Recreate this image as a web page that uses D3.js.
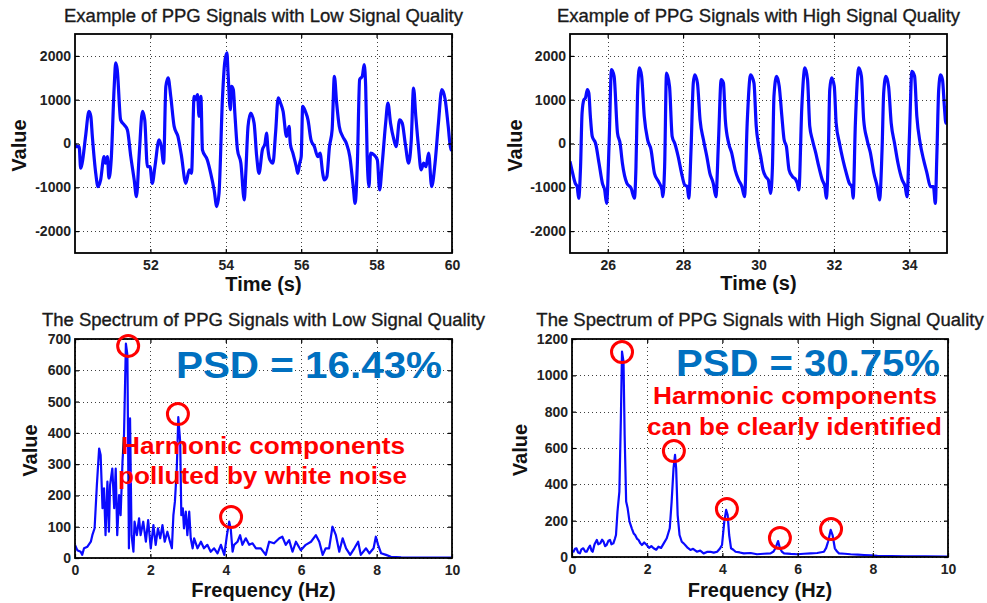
<!DOCTYPE html>
<html><head><meta charset="utf-8">
<script src="https://cdn.jsdelivr.net/npm/d3@7"></script>
<style>body{margin:0;background:#fff}svg{display:block}text{font-family:"Liberation Sans",Arial,sans-serif}</style>
</head><body><svg id="c" width="987" height="603"></svg>
<script>
// ---------- data ----------
const lowTitle = "Example of PPG Signals with Low Signal Quality";
const highTitle = "Example of PPG Signals with High Signal Quality";
const lowSpecTitle = "The Spectrum of PPG Signals with Low Signal Quality";
const highSpecTitle = "The Spectrum of PPG Signals with High Signal Quality";

const lowTimeTicks = [52, 54, 56, 58, 60];
const highTimeTicks = [26, 28, 30, 32, 34];
const signalTicks = [-2000, -1000, 0, 1000, 2000];
const freqTicks = [0, 2, 4, 6, 8, 10];
const lowSpecTicks = [0, 100, 200, 300, 400, 500, 600, 700];
const highSpecTicks = [0, 200, 400, 600, 800, 1000, 1200];

// [time (s), value]
const lowSignal = [[50.0,0],[50.02,-70],[50.11,-70],[50.15,-565],[50.19,-450],[50.28,160],[50.37,733],[50.42,620],[50.46,160],[50.55,-680],[50.61,-985],[50.68,-830],[50.77,-300],[50.81,-450],[50.86,-300],[50.90,-790],[50.96,-375],[51.04,1305],[51.08,1840],[51.12,1690],[51.21,540],[51.30,430],[51.39,310],[51.48,-300],[51.57,-830],[51.63,-1215],[51.70,-300],[51.79,733],[51.85,540],[51.92,-530],[51.99,-530],[52.05,-910],[52.12,-530],[52.23,84],[52.29,-70],[52.35,-450],[52.41,1305],[52.47,1500],[52.54,1076],[52.63,390],[52.73,160],[52.82,-260],[52.94,-910],[53.03,-600],[53.09,-680],[53.16,1076],[53.20,1000],[53.25,1115],[53.29,620],[53.34,1076],[53.38,-145],[53.51,-375],[53.60,-680],[53.69,-1060],[53.76,-1440],[53.82,-1140],[53.91,1000],[53.97,1840],[54.03,2070],[54.06,1610],[54.12,770],[54.15,1305],[54.20,1230],[54.24,695],[54.31,-145],[54.40,-450],[54.49,-1290],[54.53,-680],[54.59,390],[54.66,695],[54.75,465],[54.82,-300],[54.88,-680],[54.97,-145],[55.04,0],[55.08,240],[55.12,-145],[55.17,-375],[55.25,-450],[55.32,240],[55.39,1040],[55.45,925],[55.52,733],[55.61,160],[55.68,390],[55.71,0],[55.78,-220],[55.87,-530],[55.91,-680],[55.96,-450],[56.00,-300],[56.04,850],[56.11,733],[56.18,540],[56.26,84],[56.35,-70],[56.44,-300],[56.50,-220],[56.57,-680],[56.61,-830],[56.68,-755],[56.75,-70],[56.82,310],[56.88,1535],[56.94,925],[57.01,390],[57.10,160],[57.20,0],[57.29,-300],[57.38,-985],[57.43,-1365],[57.49,-450],[57.55,1460],[57.62,1535],[57.67,1800],[57.71,1305],[57.75,-300],[57.80,-985],[57.84,-220],[57.93,-260],[58.02,-375],[58.08,-1060],[58.15,-450],[58.24,465],[58.30,925],[58.37,465],[58.46,84],[58.52,-70],[58.61,540],[58.68,465],[58.76,0],[58.85,-450],[58.92,84],[58.98,1267],[59.04,620],[59.11,-70],[59.18,-600],[59.25,-450],[59.31,-530],[59.38,-220],[59.46,-985],[59.55,-450],[59.64,465],[59.73,1230],[59.82,1000],[59.90,390],[59.97,-145],[60.0,-150]];

const highSignal = [[25.0,-410],[25.05,-600],[25.14,-910],[25.19,-985],[25.23,-1250],[25.28,-530],[25.32,695],[25.37,1000],[25.41,1040],[25.46,1230],[25.50,1150],[25.54,620],[25.59,160],[25.68,0],[25.77,-450],[25.86,-910],[25.92,-1060],[25.97,-1366],[26.04,84],[26.10,1690],[26.17,1535],[26.26,240],[26.33,0],[26.39,-450],[26.51,-910],[26.62,-1020],[26.71,-1250],[26.75,-530],[26.79,1076],[26.84,1725],[26.90,1535],[26.97,620],[27.06,84],[27.15,-145],[27.24,-680],[27.35,-870],[27.44,-1060],[27.46,-1215],[27.51,-530],[27.56,1610],[27.64,1305],[27.71,160],[27.78,0],[27.87,-300],[27.96,-680],[28.04,-945],[28.11,-985],[28.15,-1250],[28.21,-145],[28.27,1380],[28.31,1570],[28.38,1380],[28.45,540],[28.54,84],[28.63,-300],[28.71,-680],[28.80,-910],[28.87,-1215],[28.94,84],[29.01,1460],[29.07,1380],[29.12,540],[29.21,0],[29.29,-220],[29.38,-600],[29.47,-830],[29.56,-985],[29.63,-1215],[29.70,465],[29.79,1570],[29.88,1380],[29.94,390],[30.00,-30],[30.06,-300],[30.12,-600],[30.19,-755],[30.26,-830],[30.32,-1140],[30.37,-530],[30.41,1076],[30.48,1535],[30.55,1305],[30.62,620],[30.68,84],[30.74,-70],[30.81,-600],[30.90,-755],[30.99,-830],[31.03,-910],[31.07,-1060],[31.15,850],[31.23,1725],[31.30,1460],[31.36,390],[31.43,84],[31.52,-220],[31.60,-530],[31.69,-830],[31.76,-985],[31.80,-1250],[31.85,-300],[31.89,1230],[31.94,1500],[32.01,1305],[32.06,465],[32.15,0],[32.24,-375],[32.33,-680],[32.41,-910],[32.48,-985],[32.51,-1250],[32.57,465],[32.66,1725],[32.73,1535],[32.79,540],[32.88,84],[32.97,-220],[33.06,-680],[33.15,-985],[33.21,-1290],[33.28,-70],[33.32,1150],[33.38,1535],[33.45,1305],[33.52,465],[33.61,0],[33.70,-450],[33.81,-830],[33.89,-985],[33.94,-1215],[34.00,84],[34.07,1650],[34.14,1535],[34.20,620],[34.29,0],[34.38,-375],[34.47,-680],[34.56,-985],[34.64,-985],[34.69,-1366],[34.73,-300],[34.78,1230],[34.83,1570],[34.88,1460],[34.93,850],[34.97,465],[35.0,500]];

// [frequency (Hz), value]
const lowSpectrum = [[0,42],[0.06,25],[0.15,20],[0.19,10],[0.24,31],[0.33,36],[0.42,52],[0.46,73],[0.52,95],[0.58,233],[0.64,350],[0.68,329],[0.73,159],[0.77,223],[0.81,73],[0.86,244],[0.90,84],[0.93,233],[0.99,286],[1.04,159],[1.08,286],[1.12,73],[1.17,201],[1.21,137],[1.26,308],[1.30,393],[1.35,685],[1.39,649],[1.43,31],[1.46,446],[1.50,73],[1.55,20],[1.58,116],[1.64,73],[1.70,127],[1.74,73],[1.81,116],[1.88,52],[1.94,121],[2.01,31],[2.08,105],[2.14,42],[2.20,95],[2.26,63],[2.32,105],[2.38,52],[2.45,84],[2.52,52],[2.57,31],[2.61,137],[2.65,180],[2.70,286],[2.74,450],[2.79,372],[2.82,137],[2.86,159],[2.89,95],[2.94,148],[2.98,73],[3.03,148],[3.07,63],[3.12,31],[3.16,63],[3.25,31],[3.34,52],[3.42,31],[3.51,42],[3.60,20],[3.69,31],[3.78,15],[3.87,42],[3.96,10],[4.03,73],[4.09,116],[4.13,95],[4.18,20],[4.22,42],[4.31,52],[4.38,73],[4.44,42],[4.53,63],[4.62,42],[4.71,47],[4.80,31],[4.93,31],[5.06,10],[5.15,52],[5.28,47],[5.42,63],[5.50,68],[5.59,42],[5.68,57],[5.77,20],[5.86,52],[5.99,25],[6.12,42],[6.26,52],[6.39,73],[6.48,52],[6.57,10],[6.65,31],[6.74,31],[6.83,100],[6.92,73],[7.01,20],[7.10,63],[7.19,31],[7.30,10],[7.41,31],[7.51,52],[7.58,10],[7.72,31],[7.81,15],[7.92,31],[7.98,68],[8.04,42],[8.12,15],[8.25,10],[8.38,4],[8.65,2],[10,1]];

const highSpectrum = [[0,30],[0.04,29],[0.08,45],[0.12,48],[0.16,25],[0.21,20],[0.25,42],[0.30,48],[0.35,30],[0.39,29],[0.44,50],[0.48,62],[0.52,35],[0.55,29],[0.60,70],[0.66,94],[0.70,70],[0.75,75],[0.80,95],[0.84,84],[0.88,60],[0.92,66],[0.97,90],[1.01,94],[1.05,70],[1.10,75],[1.14,100],[1.17,121],[1.21,250],[1.26,360],[1.30,763],[1.33,1130],[1.37,1075],[1.40,672],[1.44,305],[1.48,268],[1.53,195],[1.59,158],[1.64,130],[1.68,121],[1.73,100],[1.77,94],[1.82,75],[1.86,66],[1.92,80],[1.99,66],[2.05,50],[2.11,60],[2.17,48],[2.24,40],[2.30,57],[2.37,50],[2.44,75],[2.52,103],[2.60,158],[2.65,305],[2.70,488],[2.74,562],[2.77,488],[2.81,231],[2.86,121],[2.92,84],[2.97,75],[3.01,66],[3.08,50],[3.15,39],[3.22,45],[3.32,29],[3.41,35],[3.50,20],[3.59,28],[3.68,29],[3.77,24],[3.86,29],[3.93,45],[3.99,66],[4.05,195],[4.10,259],[4.14,231],[4.18,121],[4.23,48],[4.29,40],[4.35,29],[4.46,25],[4.57,20],[4.75,22],[4.92,15],[5.10,18],[5.28,20],[5.36,30],[5.41,48],[5.48,88],[5.53,48],[5.58,30],[5.64,20],[5.82,17],[5.99,15],[6.17,18],[6.35,20],[6.52,22],[6.70,29],[6.76,50],[6.81,84],[6.88,149],[6.93,121],[6.99,48],[7.05,30],[7.10,20],[7.25,18],[7.41,15],[7.60,13],[7.77,11],[7.95,9],[8.12,6],[8.50,5],[8.84,4],[9.40,3],[10,2]];

// circled harmonic peaks [frequency, value]
const lowHarmonics = [[1.41, 678], [2.73, 460], [4.14, 131]];
const highHarmonics = [[1.33, 1128], [2.71, 583], [4.12, 264], [5.53, 105], [6.89, 154]];

const lowPSD = "PSD = 16.43%";
const highPSD = "PSD = 30.75%";
const lowNote = ["Harmonic components", "polluted by white noise"];
const highNote = ["Harmonic components", "can be clearly identified"];

// ---------- drawing ----------
const svg = d3.select("#c");
const BLUE = "#0a0aff";
let clipId = 0;

function panel(cfg) {
  const b = cfg.box;
  const x = d3.scaleLinear().domain(cfg.xDomain).range([b.x0, b.x1]);
  const y = d3.scaleLinear().domain(cfg.yDomain).range([b.y1, b.y0]);
  const g = svg.append("g");

  // grid
  const grid = g.append("g").attr("stroke", "#000").attr("stroke-width", 1)
    .attr("stroke-dasharray", "1,3").attr("opacity", 0.75);
  grid.selectAll("line.v").data(cfg.xTicks).join("line")
    .attr("x1", d => Math.round(x(d)) + 0.5).attr("x2", d => Math.round(x(d)) + 0.5)
    .attr("y1", b.y0).attr("y2", b.y1);
  grid.selectAll("line.h").data(cfg.yTicks).join("line")
    .attr("y1", d => Math.round(y(d)) + 0.5).attr("y2", d => Math.round(y(d)) + 0.5)
    .attr("x1", b.x0).attr("x2", b.x1);

  // series
  const id = "clip" + (clipId++);
  svg.append("clipPath").attr("id", id).append("rect")
    .attr("x", b.x0).attr("y", b.y0).attr("width", b.x1 - b.x0).attr("height", b.y1 - b.y0);
  g.append("path").datum(cfg.data)
    .attr("clip-path", `url(#${id})`)
    .attr("fill", "none").attr("stroke", BLUE).attr("stroke-width", cfg.lineWidth)
    .attr("stroke-linejoin", "round")
    .attr("d", d3.line().curve(cfg.curve || d3.curveLinear).x(d => x(d[0])).y(d => y(d[1])));

  // axes (ticks inside, MATLAB style)
  const fmt = d => String(d);
  const styleAxis = sel => {
    sel.select(".domain").remove();
    sel.selectAll(".tick line").attr("stroke", "#000").attr("stroke-width", 1.2);
    sel.selectAll("text").attr("font-size", 14).attr("font-weight", "bold")
      .attr("fill", "#222").attr("font-family", '"Liberation Sans", Arial, sans-serif');
  };
  g.append("g").attr("transform", `translate(0,${b.y1})`)
    .call(d3.axisBottom(x).tickValues(cfg.xTicks).tickFormat(fmt).tickSizeInner(-4).tickSizeOuter(0).tickPadding(7.5))
    .call(styleAxis);
  g.append("g").attr("transform", `translate(0,${b.y0})`)
    .call(d3.axisTop(x).tickValues(cfg.xTicks).tickFormat("").tickSizeInner(-4).tickSizeOuter(0))
    .call(styleAxis);
  g.append("g").attr("transform", `translate(${b.x0},0)`)
    .call(d3.axisLeft(y).tickValues(cfg.yTicks).tickFormat(fmt).tickSizeInner(-4).tickSizeOuter(0).tickPadding(4))
    .call(styleAxis);
  g.append("g").attr("transform", `translate(${b.x1},0)`)
    .call(d3.axisRight(y).tickValues(cfg.yTicks).tickFormat("").tickSizeInner(-4).tickSizeOuter(0))
    .call(styleAxis);

  // frame
  g.append("rect").attr("x", b.x0).attr("y", b.y0).attr("width", b.x1 - b.x0).attr("height", b.y1 - b.y0)
    .attr("fill", "none").attr("stroke", "#000").attr("stroke-width", 1.8);

  // title
  const cx = (b.x0 + b.x1) / 2;
  g.append("text").attr("x", cx).attr("y", cfg.titleY).attr("text-anchor", "middle")
    .attr("font-size", 18.5).attr("fill", "#1a1a1a").attr("stroke", "#1a1a1a").attr("stroke-width", 0.35)
    .text(cfg.title);
  // x label
  g.append("text").attr("x", cx).attr("y", cfg.xLabelY).attr("text-anchor", "middle")
    .attr("font-size", 20).attr("font-weight", "bold").attr("fill", "#111").text(cfg.xLabel);
  // y label
  g.append("text").attr("transform", `translate(${cfg.yLabelX},${(b.y0 + b.y1) / 2 + 2}) rotate(-90)`)
    .attr("text-anchor", "middle").attr("font-size", 20).attr("font-weight", "bold").attr("fill", "#111")
    .text("Value");

  // circles on harmonics
  if (cfg.circles) {
    g.selectAll("circle.h").data(cfg.circles).join("circle")
      .attr("cx", d => x(d[0])).attr("cy", d => y(d[1])).attr("r", 10.5)
      .attr("fill", "none").attr("stroke", "#ff0000").attr("stroke-width", 3);
  }
  // annotations
  if (cfg.psd) {
    g.append("text").attr("x", cfg.psd.x).attr("y", cfg.psd.y)
      .attr("font-size", 37).attr("font-weight", "bold").attr("fill", "#0070c0")
      .attr("textLength", cfg.psd.w).attr("lengthAdjust", "spacingAndGlyphs").text(cfg.psd.text);
  }
  if (cfg.notes) {
    cfg.notes.forEach(n => {
      g.append("text").attr("x", n.x).attr("y", n.y)
        .attr("font-size", 24).attr("font-weight", "bold").attr("fill", "#ff0000")
        .attr("textLength", n.w).attr("lengthAdjust", "spacingAndGlyphs").text(n.text);
    });
  }
}

panel({
  box: {x0: 75, x1: 452, y0: 34, y1: 253},
  xDomain: [50, 60], yDomain: [-2500, 2500],
  xTicks: lowTimeTicks, yTicks: signalTicks,
  data: lowSignal, lineWidth: 3.2, curve: d3.curveMonotoneX,
  title: lowTitle, titleY: 22, xLabel: "Time (s)", xLabelY: 291, yLabelX: 26
});
panel({
  box: {x0: 570, x1: 947, y0: 34, y1: 253},
  xDomain: [25, 35], yDomain: [-2500, 2500],
  xTicks: highTimeTicks, yTicks: signalTicks,
  data: highSignal, lineWidth: 3.2, curve: d3.curveMonotoneX,
  title: highTitle, titleY: 22, xLabel: "Time (s)", xLabelY: 290, yLabelX: 522
});
panel({
  box: {x0: 75, x1: 452, y0: 339, y1: 558},
  xDomain: [0, 10], yDomain: [0, 700],
  xTicks: freqTicks, yTicks: lowSpecTicks,
  data: lowSpectrum, lineWidth: 2.2,
  title: lowSpecTitle, titleY: 326, xLabel: "Frequency (Hz)", xLabelY: 597, yLabelX: 37,
  circles: lowHarmonics,
  psd: {text: lowPSD, x: 176, y: 378, w: 266},
  notes: [{text: lowNote[0], x: 121, y: 454, w: 284}, {text: lowNote[1], x: 118, y: 484, w: 289}]
});
panel({
  box: {x0: 572, x1: 948, y0: 339, y1: 557},
  xDomain: [0, 10], yDomain: [0, 1200],
  xTicks: freqTicks, yTicks: highSpecTicks,
  data: highSpectrum, lineWidth: 2.2,
  title: highSpecTitle, titleY: 326, xLabel: "Frequency (Hz)", xLabelY: 597, yLabelX: 527,
  circles: highHarmonics,
  psd: {text: highPSD, x: 676, y: 376, w: 264},
  notes: [{text: highNote[0], x: 653, y: 404, w: 284}, {text: highNote[1], x: 647, y: 435, w: 295}]
});
</script>
</body></html>
